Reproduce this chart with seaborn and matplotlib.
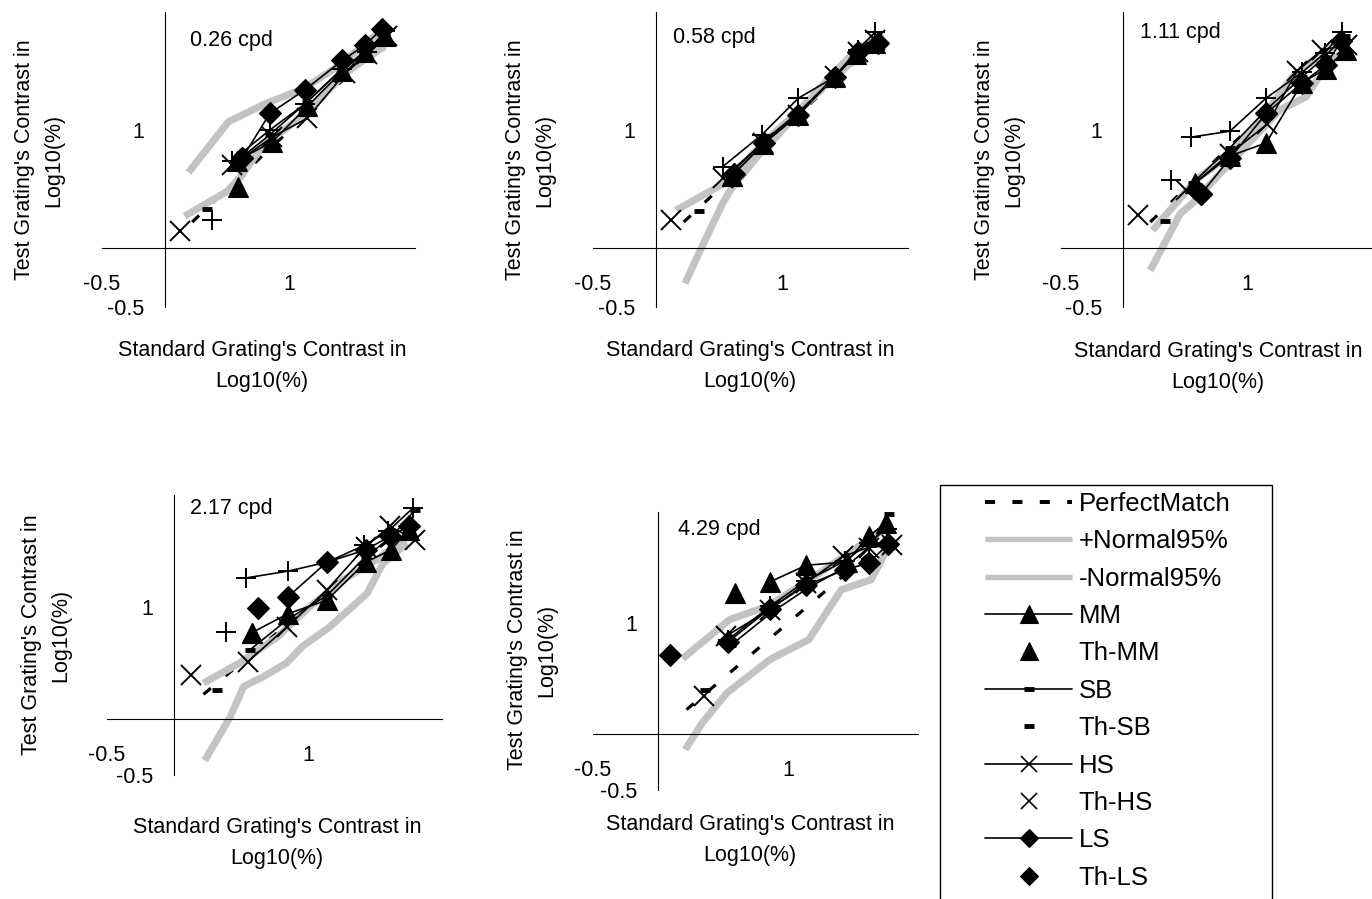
import matplotlib
matplotlib.use("Agg")
import matplotlib.pyplot as plt
import seaborn as sns
from matplotlib.lines import Line2D
from matplotlib.patches import Rectangle

# ---------------- data (log10 % contrast) ----------------
PANEL_TITLES = ["0.26 cpd", "0.58 cpd", "1.11 cpd", "2.17 cpd", "4.29 cpd"]
SUBJECTS = ["MM", "SB", "HS", "LS", "SL"]

PM = [0.22, 0.5, 0.8, 1.1, 1.4, 1.6, 1.76]   # perfect match y = x

# panel 1 : 0.26 cpd
P1_UP_X = [0.19, 0.51, 0.82, 1.11, 1.40, 1.59, 1.76]
P1_UP_Y = [0.64, 1.07, 1.23, 1.35, 1.55, 1.72, 1.87]
P1_LO_X = [0.16, 0.50, 0.62, 0.78, 1.14, 1.43, 1.60, 1.76]
P1_LO_Y = [0.27, 0.48, 0.62, 0.86, 1.15, 1.47, 1.60, 1.71]
P1_MM = ([0.58, 0.86, 1.14, 1.42, 1.60, 1.76], [0.74, 0.90, 1.20, 1.50, 1.66, 1.80])
P1_SB = ([0.56, 0.84, 1.14, 1.42, 1.62, 1.76], [0.72, 0.96, 1.24, 1.52, 1.68, 1.82])
P1_HS = ([0.54, 0.86, 1.14, 1.44, 1.62, 1.78], [0.70, 0.94, 1.10, 1.48, 1.64, 1.80])
P1_LS = ([0.62, 0.84, 1.12, 1.42, 1.60, 1.74], [0.76, 1.14, 1.34, 1.59, 1.72, 1.86])
P1_SL = ([0.54, 0.84, 1.12, 1.42, 1.62, 1.76], [0.74, 1.00, 1.22, 1.52, 1.66, 1.84])
P1_TH = {"MM": (0.59, 0.52), "SB": (0.34, 0.33), "HS": (0.12, 0.14),
         "LS": (0.62, 0.76), "SL": (0.38, 0.24)}

# panel 2 : 0.58 cpd
P2_UP_X = [0.16, 0.56, 0.85, 1.14, 1.41, 1.59, 1.80]
P2_UP_Y = [0.32, 0.56, 0.89, 1.17, 1.48, 1.68, 1.81]
P2_LO_X = [0.23, 0.36, 0.53, 0.59, 0.80, 0.98, 1.14, 1.41, 1.59, 1.80]
P2_LO_Y = [-0.30, 0.00, 0.38, 0.49, 0.77, 0.97, 1.17, 1.44, 1.61, 1.79]
P2_MM = ([0.60, 0.85, 1.13, 1.42, 1.59, 1.74], [0.61, 0.88, 1.13, 1.45, 1.64, 1.74])
P2_SB = ([0.58, 0.85, 1.13, 1.42, 1.59, 1.76], [0.62, 0.90, 1.15, 1.45, 1.67, 1.77])
P2_HS = ([0.53, 0.85, 1.13, 1.42, 1.60, 1.74], [0.59, 0.89, 1.13, 1.46, 1.66, 1.76])
P2_LS = ([0.62, 0.86, 1.13, 1.42, 1.60, 1.76], [0.63, 0.89, 1.13, 1.45, 1.66, 1.74])
P2_SL = ([0.53, 0.84, 1.13, 1.42, 1.60, 1.74], [0.69, 0.96, 1.27, 1.45, 1.68, 1.83])
P2_TH = {"SB": (0.34, 0.31), "HS": (0.12, 0.24), "MM": (0.60, 0.61), "LS": (0.62, 0.63)}

# panel 3 : 1.11 cpd
P3_UP_X = [0.24, 0.59, 0.83, 1.07, 1.36, 1.60, 1.82]
P3_UP_Y = [0.15, 0.58, 0.77, 1.03, 1.45, 1.65, 1.79]
P3_LO_X = [0.22, 0.46, 0.56, 0.78, 1.04, 1.26, 1.47, 1.63, 1.82]
P3_LO_Y = [-0.19, 0.29, 0.38, 0.63, 0.92, 1.17, 1.28, 1.54, 1.71]
P3_MM = ([0.58, 0.86, 1.15, 1.44, 1.63, 1.79], [0.55, 0.78, 0.89, 1.40, 1.52, 1.68])
P3_SB = ([0.56, 0.86, 1.16, 1.44, 1.62, 1.78], [0.55, 0.85, 1.18, 1.45, 1.62, 1.80])
P3_HS = ([0.51, 0.86, 1.16, 1.40, 1.60, 1.80], [0.49, 0.80, 1.05, 1.50, 1.68, 1.72])
P3_LS = ([0.63, 0.86, 1.15, 1.44, 1.63, 1.75], [0.46, 0.76, 1.14, 1.40, 1.55, 1.75])
P3_SL = ([0.55, 0.86, 1.15, 1.44, 1.62, 1.76], [0.94, 0.99, 1.27, 1.49, 1.65, 1.83])
P3_TH = {"SB": (0.34, 0.23), "HS": (0.12, 0.28), "LS": (0.63, 0.46), "SL": (0.39, 0.58)}

# panel 4 : 2.17 cpd
P4_UP_X = [0.22, 0.49, 0.77, 1.01, 1.26, 1.51, 1.74]
P4_UP_Y = [0.32, 0.50, 0.73, 1.00, 1.24, 1.42, 1.63]
P4_LO_X = [0.23, 0.42, 0.52, 0.67, 0.84, 0.96, 1.16, 1.44, 1.56, 1.74]
P4_LO_Y = [-0.37, 0.02, 0.29, 0.38, 0.50, 0.65, 0.82, 1.12, 1.39, 1.57]
P4_MM = ([0.58, 0.85, 1.14, 1.43, 1.62, 1.75], [0.77, 0.94, 1.06, 1.40, 1.51, 1.69])
P4_SB = ([0.57, 0.86, 1.14, 1.43, 1.62, 1.80], [0.62, 0.90, 1.10, 1.45, 1.62, 1.87])
P4_HS = ([0.55, 0.84, 1.14, 1.43, 1.61, 1.80], [0.51, 0.82, 1.15, 1.54, 1.72, 1.60])
P4_LS = ([0.85, 1.14, 1.43, 1.61, 1.75], [1.09, 1.40, 1.51, 1.63, 1.72])
P4_SL = ([0.54, 0.85, 1.14, 1.42, 1.60, 1.78], [1.26, 1.32, 1.40, 1.55, 1.68, 1.88])
P4_TH = {"MM": (0.58, 0.77), "SB": (0.32, 0.26), "HS": (0.13, 0.39),
         "LS": (0.63, 0.99), "SL": (0.39, 0.78)}

# panel 5 : 4.29 cpd
P5_UP_X = [0.19, 0.55, 0.84, 1.17, 1.43, 1.63, 1.75]
P5_UP_Y = [0.68, 1.03, 1.15, 1.39, 1.60, 1.76, 1.85]
P5_LO_X = [0.21, 0.34, 0.53, 0.86, 1.16, 1.41, 1.64, 1.76]
P5_LO_Y = [-0.14, 0.10, 0.37, 0.67, 0.85, 1.30, 1.39, 1.66]
P5_MM = ([0.86, 1.14, 1.45, 1.62, 1.75], [1.37, 1.52, 1.55, 1.78, 1.90])
P5_SB = ([0.56, 0.88, 1.16, 1.44, 1.64, 1.78], [0.80, 1.10, 1.32, 1.50, 1.70, 1.98])
P5_HS = ([0.52, 0.86, 1.14, 1.42, 1.62, 1.80], [0.88, 1.12, 1.36, 1.60, 1.68, 1.70])
P5_LS = ([0.54, 0.86, 1.14, 1.44, 1.62, 1.77], [0.83, 1.13, 1.34, 1.48, 1.54, 1.71])
P5_SL = ([0.54, 0.86, 1.14, 1.44, 1.62, 1.76], [0.85, 1.15, 1.38, 1.56, 1.72, 1.85])
P5_TH = {"MM": (0.59, 1.27), "SB": (0.36, 0.40), "HS": (0.35, 0.34), "LS": (0.09, 0.71)}

X_TICKS = [-0.5, 1]
Y_TICKS = [-0.5, 1]
TICK_LABELS = ["-0.5", "1"]
XLABEL = "Standard Grating's Contrast in\nLog10(%)"
YLABEL = "Test Grating's Contrast in\nLog10(%)"
LEGEND_LABELS = ["PerfectMatch", "+Normal95%", "-Normal95%", "MM", "Th-MM",
                 "SB", "Th-SB", "HS", "Th-HS", "LS", "Th-LS"]

# ---------------- styling ----------------
sns.set_theme(style="white")
plt.rcParams['font.family'] = ['Liberation Sans', 'DejaVu Sans']
plt.rcParams['text.color'] = 'black'
plt.rcParams['axes.labelcolor'] = 'black'
plt.rcParams['xtick.color'] = 'black'
plt.rcParams['ytick.color'] = 'black'

W, H = 1372, 899
fig = plt.figure(figsize=(W / 100, H / 100), dpi=100)
fig.patch.set_facecolor("white")

GRAY = "#c3c3c3"
MARK = {
    "MM": dict(marker="^", markersize=14, markeredgewidth=0.8),
    "SB": dict(marker="_", markersize=7, markeredgewidth=3.5),
    "HS": dict(marker="x", markersize=14, markeredgewidth=1.4),
    "LS": dict(marker="D", markersize=11.5, markeredgewidth=0.8),
    "SL": dict(marker="+", markersize=15, markeredgewidth=1.4),
}

# axes rectangles in pixels: left, top, right, bottom
RECTS = [(102, 12, 415, 307), (593, 12, 908, 307), (1060.5, 12, 1372, 307),
         (107, 495, 442, 775), (593, 512, 918, 789.5)]
TITLE_POS = [(0.20, 1.76), (0.135, 1.78), (0.14, 1.83), (0.12, 1.88), (0.15, 1.84)]
YLAB_POS = [(39, 160), (530, 160), (999, 160), (46, 635), (532, 650)]
XLAB_POS = [(262, 366), (750, 366), (1218, 367), (277, 843), (750, 840)]

PANELS = [
    (P1_UP_X, P1_UP_Y, P1_LO_X, P1_LO_Y, [P1_MM, P1_SB, P1_HS, P1_LS, P1_SL], P1_TH),
    (P2_UP_X, P2_UP_Y, P2_LO_X, P2_LO_Y, [P2_MM, P2_SB, P2_HS, P2_LS, P2_SL], P2_TH),
    (P3_UP_X, P3_UP_Y, P3_LO_X, P3_LO_Y, [P3_MM, P3_SB, P3_HS, P3_LS, P3_SL], P3_TH),
    (P4_UP_X, P4_UP_Y, P4_LO_X, P4_LO_Y, [P4_MM, P4_SB, P4_HS, P4_LS, P4_SL], P4_TH),
    (P5_UP_X, P5_UP_Y, P5_LO_X, P5_LO_Y, [P5_MM, P5_SB, P5_HS, P5_LS, P5_SL], P5_TH),
]

FS = 15.5

for i, (ux, uy, lx, ly, series, th) in enumerate(PANELS):
    l, t, r, b = RECTS[i]
    ax = fig.add_axes([l / W, 1 - b / H, (r - l) / W, (b - t) / H])
    ax.patch.set_alpha(0)

    # perfect match
    sns.lineplot(x=PM, y=PM, ax=ax, color="black", lw=2.3, estimator=None,
                 sort=False, legend=False)
    ax.lines[-1].set_dashes([3, 6])
    ax.lines[-1].set_dash_capstyle("butt")
    # normal 95% bounds
    sns.lineplot(x=ux, y=uy, ax=ax, color=GRAY, lw=5.2, estimator=None,
                 sort=False, legend=False, solid_capstyle="butt")
    sns.lineplot(x=lx, y=ly, ax=ax, color=GRAY, lw=5.2, estimator=None,
                 sort=False, legend=False, solid_capstyle="butt")
    for name, (sx, sy) in zip(SUBJECTS, series):
        sns.lineplot(x=sx, y=sy, ax=ax, color="black", lw=1.2, estimator=None,
                     sort=False, legend=False, markerfacecolor="black",
                     markeredgecolor="black", **MARK[name])
        if name in th:
            tx, ty = th[name]
            sns.lineplot(x=[tx], y=[ty], ax=ax, color="black", linestyle="none",
                         estimator=None, legend=False, markerfacecolor="black",
                         markeredgecolor="black", **MARK[name])

    ax.set_xlim(-0.5, 2)
    ax.set_ylim(-0.5, 2)
    for s in ["top", "right"]:
        ax.spines[s].set_visible(False)
    ax.spines["left"].set_position(("data", 0))
    ax.spines["bottom"].set_position(("data", 0))
    for s in ["left", "bottom"]:
        ax.spines[s].set_color("black")
        ax.spines[s].set_linewidth(0.8)
    ax.set_xticks(X_TICKS)
    ax.set_xticklabels(TICK_LABELS)
    ax.set_yticks(Y_TICKS)
    ax.set_yticklabels(TICK_LABELS)
    ax.tick_params(axis="both", direction="out", length=5, width=0.8,
                   color="black", labelsize=FS, labelcolor="black")
    ax.tick_params(axis="x", pad=14)
    ax.tick_params(axis="y", pad=10)
    ax.set_xlabel("")
    ax.set_ylabel("")
    ax.text(TITLE_POS[i][0], TITLE_POS[i][1], PANEL_TITLES[i], fontsize=FS,
            ha="left", va="center", color="black")

    fig.text(YLAB_POS[i][0] / W, 1 - YLAB_POS[i][1] / H, YLABEL, rotation=90,
             ha="center", va="center", fontsize=FS, linespacing=1.55,
             multialignment="center", color="black")
    fig.text(XLAB_POS[i][0] / W, 1 - XLAB_POS[i][1] / H, XLABEL,
             ha="center", va="center", fontsize=FS, linespacing=1.6,
             multialignment="center", color="black")

# ---------------- legend ----------------
LEG_MARK = {
    "MM": dict(marker="^", markersize=13, markeredgewidth=0.8),
    "SB": dict(marker="_", markersize=7, markeredgewidth=3.5),
    "HS": dict(marker="x", markersize=12, markeredgewidth=1.2),
    "LS": dict(marker="D", markersize=9, markeredgewidth=0.8),
}
handles = [
    Line2D([], [], color="black", lw=2.9, dashes=(2.5, 4.3), dash_capstyle="butt"),
    Line2D([], [], color=GRAY, lw=3.8, solid_capstyle="butt"),
    Line2D([], [], color=GRAY, lw=3.8, solid_capstyle="butt"),
]
for name in ["MM", "SB", "HS", "LS"]:
    handles.append(Line2D([], [], color="black", lw=1.2, markerfacecolor="black",
                          markeredgecolor="black", **LEG_MARK[name]))
    handles.append(Line2D([], [], color="black", linestyle="none",
                          markerfacecolor="black", markeredgecolor="black",
                          **LEG_MARK[name]))

fig.add_artist(Rectangle((940 / W, 1 - 905 / H), 332 / W, 420 / H,
                         transform=fig.transFigure, fill=False,
                         edgecolor="black", lw=1.0))
fig.legend(handles, LEGEND_LABELS, loc="upper left",
           bbox_to_anchor=(985 / W, 1 - 492 / H), frameon=False,
           fontsize=18.5, handlelength=3.4, handletextpad=0.25,
           labelspacing=0.52, borderaxespad=0, borderpad=0,
           labelcolor="black")

fig.savefig("out.png", dpi=100, facecolor="white")
